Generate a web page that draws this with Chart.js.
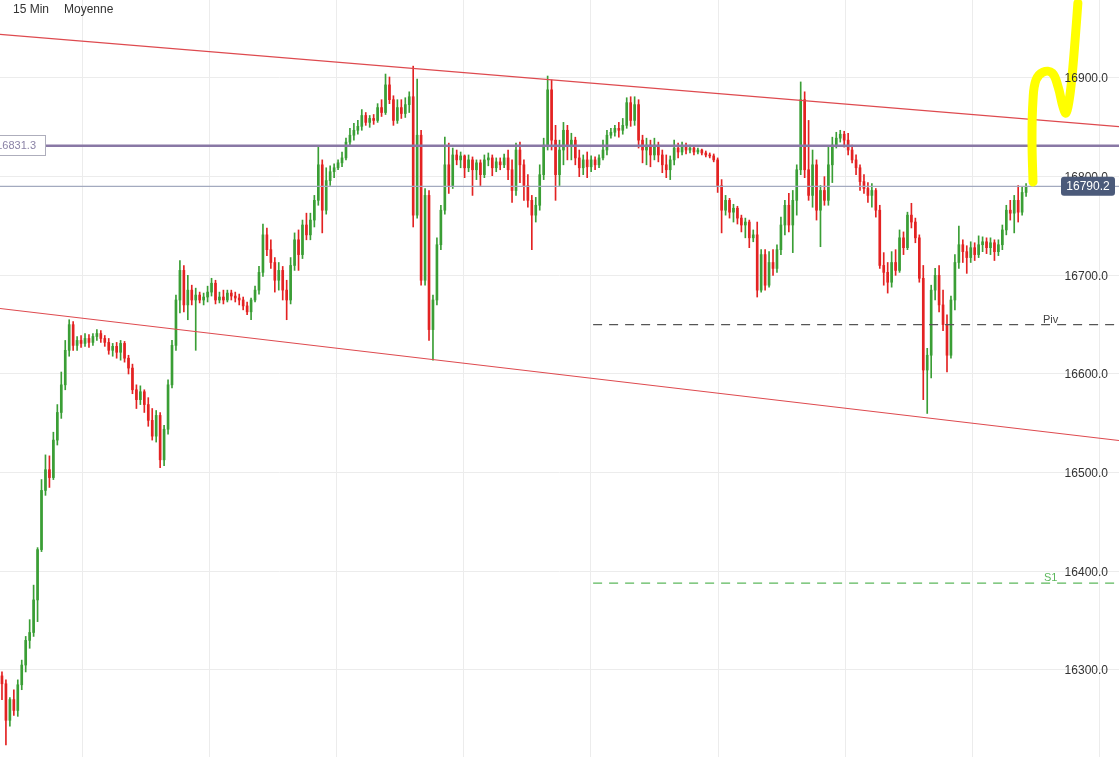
<!DOCTYPE html>
<html>
<head>
<meta charset="utf-8">
<script src="https://cdn.jsdelivr.net/npm/chart.js@4.4.1/dist/chart.umd.min.js"></script>
<style>
  body { margin: 0; background: #fff; font-family: "Liberation Sans", Arial, sans-serif; }
  #wrap { position: relative; width: 1119px; height: 757px; }
  .top { position: absolute; top: 2px; font-size: 12px; color: #333; }
</style>
</head>
<body>
<div id="wrap">
  <canvas id="graphique"></canvas>
  <div class="top" style="left:13px">15 Min</div>
  <div class="top" style="left:64px">Moyenne</div>
</div>
<script>
// Bougies 15 min (ouverture, plus haut, plus bas, clôture)
const opens = [16294,16286,16249,16270,16259,16285,16305,16330,16338,16371,
  16422,16482,16503,16495,16533,16561,16589,16624,16650,16629,
  16634,16631,16636,16632,16638,16641,16636,16632,16624,16628,
  16622,16631,16616,16606,16584,16574,16582,16569,16553,16537,
  16558,16513,16544,16589,16629,16675,16705,16670,16685,16675,
  16680,16675,16678,16683,16692,16675,16678,16675,16682,16679,
  16677,16675,16669,16663,16675,16685,16703,16741,16726,16713,
  16695,16705,16685,16675,16710,16736,16721,16751,16741,16756,
  16776,16812,16766,16796,16805,16809,16814,16819,16835,16842,
  16847,16851,16862,16855,16859,16857,16870,16865,16893,16878,
  16857,16870,16864,16873,16881,16761,16842,16695,16781,16645,
  16675,16731,16766,16812,16791,16822,16817,16821,16809,16817,
  16807,16814,16802,16817,16819,16809,16815,16812,16819,16807,
  16786,16827,16812,16791,16776,16761,16771,16802,16832,16888,
  16837,16802,16827,16847,16832,16837,16819,16809,16817,16810,
  16817,16812,16819,16827,16842,16845,16849,16847,16852,16875,
  16857,16873,16837,16827,16832,16822,16832,16822,16812,16807,
  16817,16829,16825,16831,16827,16829,16825,16827,16824,16822,
  16821,16817,16791,16766,16776,16764,16768,16758,16751,16754,
  16738,16741,16685,16721,16690,16713,16707,16726,16751,16771,
  16751,16776,16807,16878,16807,16781,16812,16766,16786,16776,
  16812,16832,16839,16843,16837,16827,16817,16809,16795,16788,
  16781,16786,16766,16710,16703,16693,16713,16705,16738,16728,
  16761,16754,16738,16697,16604,16619,16685,16700,16670,16650,
  16619,16675,16713,16731,16724,16718,16728,16721,16731,16734,
  16728,16733,16724,16731,16746,16766,16763,16776,16764,16784];
const highs = [16298,16290,16272,16280,16290,16310,16334,16351,16386,16424,
  16493,16518,16517,16541,16569,16602,16634,16655,16653,16638,
  16639,16641,16640,16641,16645,16644,16639,16636,16631,16632,
  16634,16633,16619,16610,16589,16588,16584,16576,16565,16563,
  16561,16548,16594,16634,16680,16715,16710,16700,16690,16687,
  16683,16682,16689,16697,16695,16683,16685,16685,16685,16683,
  16681,16678,16673,16677,16689,16709,16752,16748,16736,16718,
  16713,16709,16695,16718,16743,16746,16756,16763,16763,16781,
  16830,16817,16809,16811,16813,16817,16825,16839,16849,16854,
  16857,16868,16865,16862,16863,16874,16878,16904,16901,16882,
  16878,16878,16880,16886,16912,16899,16847,16788,16786,16680,
  16738,16771,16840,16834,16829,16827,16825,16822,16822,16820,
  16817,16817,16822,16824,16822,16819,16819,16823,16827,16817,
  16834,16835,16817,16802,16781,16779,16812,16839,16902,16898,
  16852,16837,16855,16852,16844,16840,16827,16822,16825,16821,
  16820,16822,16837,16847,16849,16852,16855,16859,16880,16881,
  16881,16878,16842,16839,16837,16839,16835,16827,16822,16821,
  16837,16834,16835,16834,16832,16830,16829,16828,16826,16824,
  16823,16819,16797,16781,16778,16772,16770,16761,16758,16756,
  16746,16754,16726,16726,16724,16726,16731,16759,16776,16783,
  16786,16812,16896,16886,16857,16827,16817,16791,16800,16830,
  16840,16845,16847,16846,16844,16832,16822,16812,16802,16794,
  16793,16788,16771,16723,16713,16724,16726,16746,16744,16764,
  16773,16758,16741,16710,16626,16690,16707,16710,16685,16660,
  16679,16721,16750,16736,16730,16734,16733,16740,16739,16738,
  16738,16736,16736,16751,16771,16776,16781,16791,16790,16793];
const lows = [16270,16224,16243,16254,16253,16280,16298,16322,16334,16349,
  16420,16477,16485,16493,16528,16555,16584,16618,16624,16624,
  16627,16628,16627,16629,16634,16632,16628,16620,16618,16616,
  16614,16612,16600,16580,16565,16569,16561,16547,16533,16531,
  16505,16507,16539,16586,16624,16662,16663,16655,16670,16624,
  16672,16670,16673,16679,16671,16672,16671,16673,16675,16673,
  16670,16665,16660,16655,16673,16681,16699,16720,16707,16683,
  16685,16675,16655,16671,16705,16705,16717,16736,16736,16749,
  16771,16743,16762,16791,16799,16807,16810,16817,16831,16837,
  16843,16847,16852,16850,16853,16855,16861,16863,16874,16852,
  16854,16859,16860,16865,16749,16758,16690,16690,16634,16614,
  16670,16726,16762,16783,16788,16812,16809,16799,16805,16781,
  16797,16791,16799,16811,16801,16805,16807,16809,16797,16774,
  16781,16794,16776,16769,16726,16754,16766,16797,16827,16827,
  16776,16791,16812,16817,16817,16812,16800,16802,16799,16805,
  16807,16809,16817,16822,16839,16841,16840,16843,16849,16851,
  16852,16829,16814,16812,16810,16817,16815,16804,16799,16797,
  16812,16819,16822,16823,16824,16822,16823,16822,16820,16819,
  16815,16784,16743,16761,16758,16754,16752,16744,16738,16728,
  16734,16678,16683,16685,16688,16700,16703,16721,16741,16744,
  16723,16761,16802,16799,16776,16769,16756,16729,16771,16771,
  16794,16829,16835,16830,16822,16814,16802,16786,16783,16774,
  16769,16759,16707,16690,16682,16688,16700,16703,16721,16726,
  16748,16733,16693,16574,16560,16596,16675,16663,16644,16602,
  16616,16665,16707,16713,16702,16713,16715,16718,16724,16722,
  16721,16715,16720,16726,16741,16756,16743,16754,16761,16780];
const closes = [16286,16249,16270,16259,16285,16305,16330,16338,16371,16422,
  16482,16503,16495,16533,16561,16589,16624,16650,16629,16634,
  16631,16636,16632,16638,16641,16636,16632,16624,16628,16622,
  16631,16616,16606,16584,16574,16582,16569,16553,16537,16558,
  16513,16544,16589,16629,16675,16705,16670,16685,16675,16680,
  16675,16678,16683,16692,16675,16678,16675,16682,16679,16677,
  16675,16669,16663,16675,16685,16703,16741,16726,16713,16695,
  16705,16685,16675,16710,16736,16721,16751,16741,16756,16776,
  16812,16766,16796,16805,16809,16814,16819,16835,16842,16847,
  16851,16862,16855,16859,16857,16870,16865,16893,16878,16857,
  16870,16864,16873,16881,16761,16842,16695,16781,16645,16675,
  16731,16766,16812,16791,16822,16817,16821,16809,16817,16807,
  16814,16802,16817,16819,16809,16815,16812,16819,16807,16786,
  16827,16812,16791,16776,16761,16771,16802,16832,16888,16837,
  16802,16827,16847,16832,16837,16819,16809,16817,16810,16817,
  16812,16819,16827,16842,16845,16849,16847,16852,16875,16857,
  16873,16837,16827,16832,16822,16832,16822,16812,16807,16817,
  16829,16825,16831,16827,16829,16825,16827,16824,16822,16821,
  16817,16791,16766,16776,16764,16768,16758,16751,16754,16738,
  16741,16685,16721,16690,16713,16707,16726,16751,16771,16751,
  16776,16807,16878,16807,16781,16812,16766,16786,16776,16812,
  16832,16839,16843,16837,16827,16817,16809,16795,16788,16781,
  16786,16766,16710,16703,16693,16713,16705,16738,16728,16761,
  16754,16738,16697,16604,16619,16685,16700,16670,16650,16619,
  16675,16713,16731,16724,16718,16728,16721,16731,16734,16728,
  16733,16724,16731,16746,16766,16763,16776,16764,16784,16790.2];

// Graduations de l'axe des prix
const yTicks = [16300, 16400, 16500, 16600, 16700, 16800, 16900];

// Niveaux et tracés dessinés sur le graphique
const channelX = [-0.5, 282.5];
const upperChannel = [16944.3, 16850.7];
const lowerChannel = [16666.4, 16532.6];
const moyenne = 16831.3;
const dernier = 16790.2;
const pivotX = [149.5, 282.5];
const pivot = 16650;
const s1 = 16388;
const yellowX = [260.75, 260.5, 260.75, 261.5, 263.3, 265.6, 267.1, 268.35, 269.1, 269.9, 270.6, 271.4, 272.1];
const yellowY = [16794.6, 16837.2, 16877.7, 16897.9, 16906.0, 16905.0, 16890.9, 16870.6, 16864.5, 16877.7, 16901.0, 16938.5, 16976.0];

document.addEventListener('DOMContentLoaded', () => {
    const vert = '#3a9e35';
    const rouge = '#e32222';
    const couleurs = closes.map((c, i) => c >= opens[i] ? vert : rouge);
    const pts = (xs, ys) => xs.map((x, i) => ({ x: x, y: ys[i] }));
    const horiz = (xs, v) => xs.map(x => ({ x: x, y: v }));
    const police = '"Liberation Sans", Arial, sans-serif';

    // lignes verticales de la grille (une toutes les ~32 bougies)
    const gridIdx = Array.from({ length: 9 }, (_, k) => 20.24 + 32.17 * k);

    // graduations + étiquettes des niveaux, par-dessus les tracés
    const etiquettes = {
        id: 'etiquettes',
        afterDatasetsDraw(chart) {
            const { ctx, scales: { y } } = chart;
            ctx.save();
            // graduations de prix écrites à l'intérieur, côté droit
            ctx.fillStyle = '#333';
            ctx.font = '12px ' + police;
            ctx.textAlign = 'right';
            ctx.textBaseline = 'middle';
            yTicks.forEach(v => ctx.fillText(v.toFixed(1), 1108, y.getPixelForValue(v) + 1));

            // boîte de la moyenne à gauche
            const ym = Math.round(y.getPixelForValue(moyenne));
            ctx.fillStyle = '#fff';
            ctx.strokeStyle = '#aeaebc';
            ctx.lineWidth = 1;
            ctx.fillRect(-6, ym - 10, 51, 19);
            ctx.strokeRect(-6.5, ym - 10.5, 52, 20);
            ctx.fillStyle = '#8a82a6';
            ctx.font = '11px ' + police;
            ctx.fillText(moyenne.toFixed(1), 36, ym);

            // boîte du dernier cours à droite
            const yd = y.getPixelForValue(dernier);
            ctx.fillStyle = '#4b5a7a';
            ctx.beginPath();
            ctx.roundRect(1061, yd - 9.5, 54, 19, 3);
            ctx.fill();
            ctx.fillStyle = '#fff';
            ctx.font = '12px ' + police;
            ctx.textAlign = 'center';
            ctx.fillText(dernier.toFixed(1), 1088, yd + 0.5);

            // Piv et S1
            ctx.font = '11px ' + police;
            ctx.textAlign = 'left';
            ctx.textBaseline = 'alphabetic';
            ctx.fillStyle = '#444';
            ctx.fillText('Piv', 1043, y.getPixelForValue(pivot) - 2);
            ctx.fillStyle = '#5cb85c';
            ctx.fillText('S1', 1044, y.getPixelForValue(s1) - 2);
            ctx.restore();
        }
    };

    new Chart(document.getElementById('graphique'), {
        type: 'bar',
        data: {
            datasets: [
                {
                    type: 'line', label: 'Griffonnage', data: pts(yellowX, yellowY),
                    borderColor: '#ffff00', borderWidth: 9, tension: 0.4,
                    borderCapStyle: 'round', borderJoinStyle: 'round', pointRadius: 0, order: 0
                },
                {
                    type: 'line', label: 'Moyenne', data: horiz(channelX, moyenne),
                    borderColor: '#8978a5', borderWidth: 2.5, pointRadius: 0, order: 1
                },
                {
                    type: 'line', label: 'Dernier', data: horiz(channelX, dernier),
                    borderColor: '#a3aabf', borderWidth: 1.2, pointRadius: 0, order: 2
                },
                {
                    type: 'line', label: 'Canal haut', data: pts(channelX, upperChannel),
                    borderColor: '#de4a4f', borderWidth: 1.2, pointRadius: 0, order: 3
                },
                {
                    type: 'line', label: 'Canal bas', data: pts(channelX, lowerChannel),
                    borderColor: '#de4a4f', borderWidth: 1.2, pointRadius: 0, order: 3
                },
                {
                    type: 'line', label: 'Piv', data: horiz(pivotX, pivot),
                    borderColor: '#555', borderWidth: 1.3, borderDash: [9, 7], pointRadius: 0, order: 3
                },
                {
                    type: 'line', label: 'S1', data: horiz(pivotX, s1),
                    borderColor: '#5cb85c', borderWidth: 1.2, borderDash: [9, 7], pointRadius: 0, order: 3
                },
                {
                    label: 'Corps', data: closes.map((c, i) => ({ x: i, y: [opens[i], c] })),
                    backgroundColor: couleurs, barThickness: 2, minBarLength: 1, grouped: false, order: 4
                },
                {
                    label: 'Mèches', data: closes.map((c, i) => ({ x: i, y: [lows[i], highs[i]] })),
                    backgroundColor: couleurs, barThickness: 1, grouped: false, order: 5
                }
            ]
        },
        options: {
            responsive: true,
            maintainAspectRatio: false,
            animation: false,
            layout: { padding: 0 },
            plugins: {
                legend: { display: false },
                tooltip: { enabled: false }
            },
            scales: {
                x: {
                    type: 'linear', min: -0.5, max: 282.5, offset: false,
                    afterBuildTicks: ax => { ax.ticks = gridIdx.map(v => ({ value: v })); },
                    ticks: { display: false },
                    grid: { color: '#ececec', drawTicks: false, offset: false },
                    border: { display: false }
                },
                y: {
                    position: 'right', min: 16211.8, max: 16979.05,
                    afterBuildTicks: ax => { ax.ticks = yTicks.map(v => ({ value: v })); },
                    ticks: { display: false },
                    grid: { color: '#ececec', drawTicks: false },
                    border: { display: false }
                }
            }
        },
        plugins: [etiquettes]
    });
});
</script>
</body>
</html>
